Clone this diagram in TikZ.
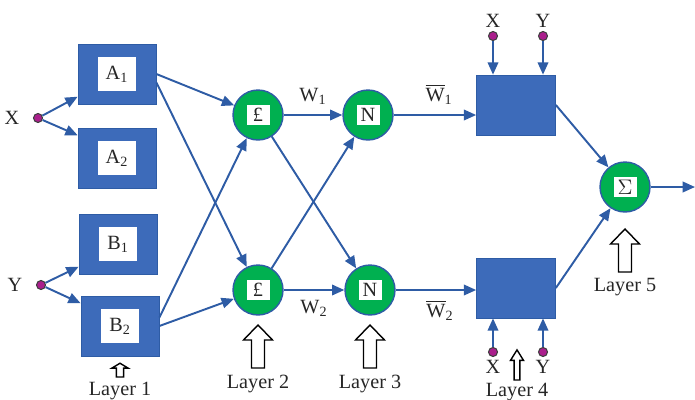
\documentclass[tikz,border=0pt]{standalone}
\usepackage{fontspec}
\setmainfont{Liberation Serif}
\usetikzlibrary{arrows.meta,positioning}
\definecolor{nfblue}{RGB}{61,107,186}
\definecolor{nfline}{RGB}{46,92,165}
\definecolor{nfgreen}{RGB}{0,176,80}
\definecolor{nfdot}{RGB}{170,30,140}

\begin{document}
\begin{tikzpicture}[x=0.02cm,y=-0.02cm,font=\fontsize{11.5}{13}\selectfont,
    every node/.append style={text=black!85},
    link/.style={draw=nfline,line width=1.1pt,-{Triangle[length=7pt,width=6pt]}},
    block/.style={draw=nfline,fill=nfblue,minimum width=1.56cm,minimum height=1.2cm,inner sep=0pt},
    inbox/.style={fill=white,minimum width=0.76cm,minimum height=0.68cm,inner sep=0pt},
    neuron/.style={circle,draw=nfline,line width=0.8pt,fill=nfgreen,minimum size=1cm,inner sep=0pt},
    insq/.style={fill=white,minimum width=0.46cm,minimum height=0.4cm,inner sep=0pt},
    inport/.style={circle,draw=black!75,line width=0.6pt,fill=nfdot,minimum size=0.18cm,inner sep=0pt},
    uparrow/.pic={\draw[fill=white,line width=0.8pt] (-6.5,0) -- (-6.5,-28) -- (-14.5,-28)
      -- (0,-43) -- (14.5,-28) -- (6.5,-28) -- (6.5,0) -- cycle;}]
  \useasboundingbox (0,0) rectangle (695,399);
  % inputs
  \node[inport] (x) at (38,118) {};
  \node[left=0.15cm of x] (xl) {X};
  \node[inport] (y) at (41,285) {};
  \node[left=0.15cm of y] (yl) {Y};
  % layer 1
  \node[block,label={[inbox]center:A\textsubscript{1}}] (a1) at (117,74) {};
  \node[block,label={[inbox]center:A\textsubscript{2}}] (a2) at (117,158) {};
  \node[block,label={[inbox]center:B\textsubscript{1}}] (b1) at (118,244) {};
  \node[block,label={[inbox]center:B\textsubscript{2}}] (b2) at (120,326) {};
  % layer 2 and 3
  \node[neuron,label={[insq]center:£}] (p1) at (258,115) {};
  \node[neuron,label={[insq]center:£}] (p2) at (258,290) {};
  \node[neuron,label={[insq]center:N}] (n1) at (368,115) {};
  \node[neuron,label={[insq]center:N}] (n2) at (370,290) {};
  % layer 4 and 5
  \node[block,minimum width=1.58cm] (c1) at (516,105) {};
  \node[block,minimum width=1.58cm] (c2) at (516,288) {};
  \node[neuron,label={[insq]center:$\Sigma$}] (s) at (625,187) {};
  \coordinate (out) at (695,187);
  \node[inport] (x1) at (493,36) {};
  \node[above=-0.05cm of x1] {X};
  \node[inport] (y1) at (543,36) {};
  \node[above=-0.05cm of y1] {Y};
  \node[inport] (x2) at (493,352) {};
  \node[below=-0.05cm of x2] {X};
  \node[inport] (y2) at (543,352) {};
  \node[below=-0.05cm of y2] {Y};

  \draw[link] (x) -- (a1.-150);
  \draw[link] (x) -- (a2.150);
  \draw[link] (y) -- (b1.-150);
  \draw[link] (y) -- (b2.150);
  \draw[link] (a1.east) -- (p1);
  \draw[link] (a1.-12) -- (p2);
  \draw[link] (b2.12) -- (p1);
  \draw[link] (b2.east) -- (p2);
  \draw[link] (p1) -- node[above=2pt] {W\textsubscript{1}} (n1);
  \draw[link] (p1) -- (n2);
  \draw[link] (p2) -- (n1);
  \draw[link] (p2) -- node[below=2pt] {W\textsubscript{2}} (n2);
  \draw[link] (n1) -- node[above=2pt,pos=0.55] {\(\overline{\mbox{W}}\)\textsubscript{1}} (n1 -| c1.west);
  \draw[link] (n2) -- node[below=2pt,pos=0.55] {\(\overline{\mbox{W}}\)\textsubscript{2}} (n2 -| c2.west);
  \draw[link] (x1) -- (x1 |- c1.north);
  \draw[link] (y1) -- (y1 |- c1.north);
  \draw[link] (x2) -- (x2 |- c2.south);
  \draw[link] (y2) -- (y2 |- c2.south);
  \draw[link] (c1.east) -- (s);
  \draw[link] (c2.east) -- (s);
  \draw[link] (s) -- (out);

  % layer markers
  \pic[xscale=0.55,yscale=0.32] at (120,377) {uparrow};
  \node (l1) at (120,391) {Layer 1};
  \pic at (258,368) {uparrow};
  \node (l2) at (258,384) {Layer 2};
  \pic at (370,368) {uparrow};
  \node (l3) at (370,384) {Layer 3};
  \pic[xscale=0.45,yscale=0.7] at (517,380) {uparrow};
  \node (l4) at (517,392) {Layer 4};
  \pic at (625,272) {uparrow};
  \node (l5) at (625,287) {Layer 5};
\end{tikzpicture}
\end{document}
